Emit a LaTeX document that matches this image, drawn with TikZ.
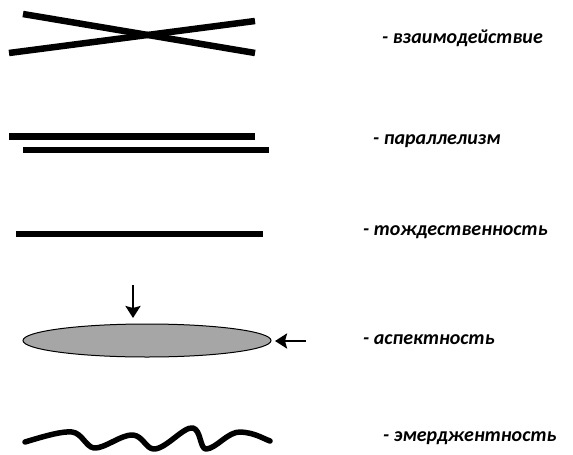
\documentclass[tikz,border=0pt]{standalone}
\usepackage{fontspec}
\setmainfont{Carlito}
\usetikzlibrary{arrows.meta,shapes.geometric}
\definecolor{ellgray}{RGB}{166,166,166}
\begin{document}
\begin{tikzpicture}[x=1pt,y=-1pt,
  thick line/.style={line width=6.5pt},
  lbl/.style={anchor=west,inner sep=0pt,font=\fontsize{20}{24}\selectfont\bfseries\itshape},
  arr/.style={line width=2.5pt,-{Stealth[length=12pt,width=15pt,inset=2pt]}}]
\useasboundingbox (0,0) rectangle (573,455);
% interaction
\coordinate (x1a) at (23,14); \coordinate (x1b) at (255,53);
\coordinate (x2a) at (9,53); \coordinate (x2b) at (255,21);
\draw[thick line] (x1a) -- (x1b);
\draw[thick line] (x2a) -- (x2b);
\node[lbl] (t1) at (382,38) {- взаимодействие};
% parallelism
\coordinate (p1a) at (9,136.5); \coordinate (p1b) at (255,136.5);
\coordinate (p2a) at (23,150); \coordinate (p2b) at (269,150);
\draw[thick line] (p1a) -- (p1b);
\draw[thick line] (p2a) -- (p2b);
\node[lbl] (t2) at (373,141) {- параллелизм};
% identity
\coordinate (i1a) at (16,234); \coordinate (i1b) at (263,234);
\draw[thick line] (i1a) -- (i1b);
\node[lbl] (t3) at (363,232) {- тождественность};
% aspect
\node[draw=black,line width=1pt,fill=ellgray,ellipse,minimum width=248pt,minimum height=33pt,inner sep=0pt] (el) at (147,340.5) {};
\coordinate (d1) at (133,285); \coordinate (d2) at (133,318);
\draw[arr] (d1) -- (d2);
\coordinate (l1) at (306,341); \coordinate (l2) at (275,341);
\draw[arr] (l1) -- (l2);
\node[lbl] (t4) at (363,340) {- аспектность};
% emergence
\coordinate (w0) at (25,442);
\draw[line width=5.5pt,line cap=round,line join=round]
  (w0) .. controls (45,436) and (62,431) .. (72,432)
  .. controls (82,433) and (86,447) .. (94,448)
  .. controls (104,449) and (122,434) .. (133,435)
  .. controls (143,436) and (146,449) .. (154,449)
  .. controls (166,449) and (184,426) .. (193,428)
  .. controls (201,430) and (200,449) .. (206,449)
  .. controls (216,449) and (228,431) .. (241,432)
  .. controls (255,433) and (262,438) .. (270,441);
\node[lbl] (t5) at (383,438) {- эмерджентность};
\end{tikzpicture}
\end{document}
